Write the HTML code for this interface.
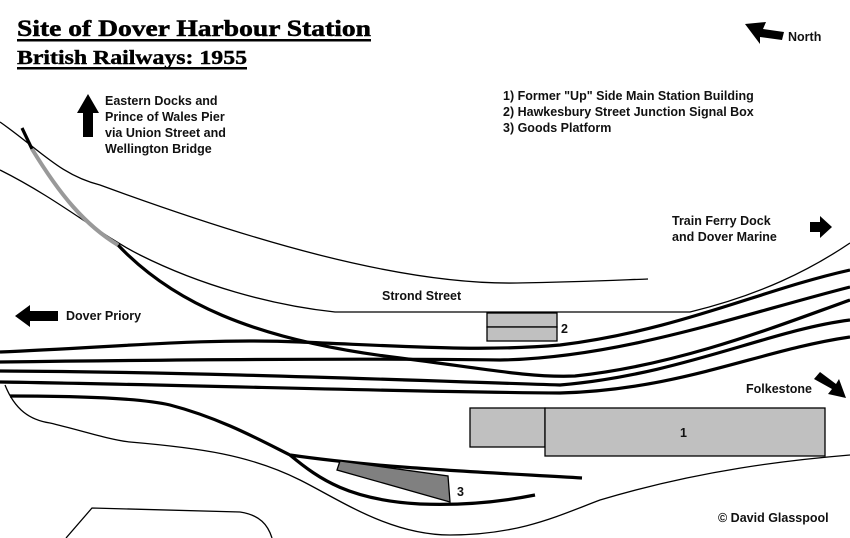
<!DOCTYPE html>
<html><head><meta charset="utf-8"><style>
html,body{margin:0;padding:0;background:#fff}
svg{display:block}
.s{font-family:"Liberation Sans",Arial,sans-serif;font-weight:bold;font-size:12.5px;fill:#111}
</style></head><body>
<svg width="850" height="538" viewBox="0 0 850 538" xmlns="http://www.w3.org/2000/svg">
<rect width="850" height="538" fill="#fff"/>
<text x="17" y="36" font-family="Liberation Serif,serif" font-weight="bold" font-size="23" textLength="354" lengthAdjust="spacingAndGlyphs" fill="#000" stroke="#000" stroke-width="0.5">Site of Dover Harbour Station</text>
<rect x="17" y="39" width="354" height="2.5" fill="#000"/>
<text x="17" y="64" font-family="Liberation Serif,serif" font-weight="bold" font-size="20" textLength="230" lengthAdjust="spacingAndGlyphs" fill="#000" stroke="#000" stroke-width="0.4">British Railways: 1955</text>
<rect x="17" y="67" width="230" height="2.5" fill="#000"/>

<!-- north arrow -->
<polygon points="745,24 766,22 763,29 784,32 782,40 760,37 760,44" fill="#000"/>
<text class="s" x="788" y="41">North</text>
<!-- up arrow -->
<polygon points="88,94 99,113 93,113 93,137 83,137 83,113 77,113" fill="#000"/>
<text class="s" x="105" y="105">Eastern Docks and</text>
<text class="s" x="105" y="121">Prince of Wales Pier</text>
<text class="s" x="105" y="137">via Union Street and</text>
<text class="s" x="105" y="153">Wellington Bridge</text>

<text class="s" x="503" y="100">1) Former "Up" Side Main Station Building</text>
<text class="s" x="503" y="116">2) Hawkesbury Street Junction Signal Box</text>
<text class="s" x="503" y="132">3) Goods Platform</text>

<text class="s" x="672" y="225">Train Ferry Dock</text>
<text class="s" x="672" y="241">and Dover Marine</text>
<polygon points="810,222 820,222 820,216 832,227 820,238 820,232 810,232" fill="#000"/>
<polygon points="15,316 30,305 30,311 58,311 58,321 30,321 30,327" fill="#000"/>
<text class="s" x="66" y="320">Dover Priory</text>
<text class="s" x="382" y="300">Strond Street</text>
<text class="s" x="746" y="393">Folkestone</text>
<polygon points="820,372 836,384 839,379 846,398 828,394 832,389 814,379" fill="#000"/>
<text class="s" x="718" y="522">© David Glasspool</text>

<!-- thin lines -->
<g fill="none" stroke="#000" stroke-width="1.3">
<path d="M0,122 C40,150 60,175 100,185 C250,240 400,285 517,283 C580,282 620,280 648,279"/>
<path d="M0,170 C60,200 100,235 140,255 C200,285 270,305 335,312 L690,312 C760,295 810,270 850,243"/>
<path d="M5,385 C15,410 30,420 50,423 C80,430 110,440 130,442 C200,448 250,455 300,480 C340,500 390,535 450,535 C520,535 560,515 600,500 C700,470 790,460 850,455"/>
<path d="M66,538 L92,508 L240,512 C260,515 268,525 272,538"/>
</g>

<!-- tracks -->
<g fill="none" stroke="#000" stroke-width="3.2">
<path d="M22,128 L32,149"/>
<path d="M118,245 C170,300 250,340 400,358 C480,368 530,378 575,376 C680,365 780,325 850,300"/>
<path d="M0,352 C120,347 200,338 300,342 C400,346 480,352 560,345 C680,330 760,290 850,270"/>
<path d="M0,362 C150,360 350,358 500,360 C620,358 740,315 850,287"/>
<path d="M0,371 C200,372 400,380 560,385 C680,375 770,330 850,320"/>
<path d="M0,382 C200,385 400,392 560,393 C680,390 760,350 850,337"/>
<path d="M10,396 C80,396 140,398 170,405 C220,418 260,440 290,455 C380,468 480,472 582,478"/>
<path d="M290,455 C320,480 350,500 420,504 C470,506 510,500 535,495"/>
</g>
<path d="M32,149 C60,195 85,225 118,245" fill="none" stroke="#999" stroke-width="4"/>

<!-- buildings -->
<g stroke="#000" stroke-width="1.3">
<rect x="487" y="313" width="70" height="14" fill="#c0c0c0"/>
<rect x="487" y="327" width="70" height="14" fill="#c0c0c0"/>
<rect x="470" y="408" width="75" height="39" fill="#c0c0c0"/>
<rect x="545" y="408" width="280" height="48" fill="#c0c0c0"/>
<polygon points="340,461 448,476 450,502 337,470" fill="#808080"/>
</g>
<text class="s" x="561" y="333" font-size="14">2</text>
<text class="s" x="680" y="437" font-size="14">1</text>
<text class="s" x="457" y="496" font-size="14">3</text>
</svg>
</body></html>
